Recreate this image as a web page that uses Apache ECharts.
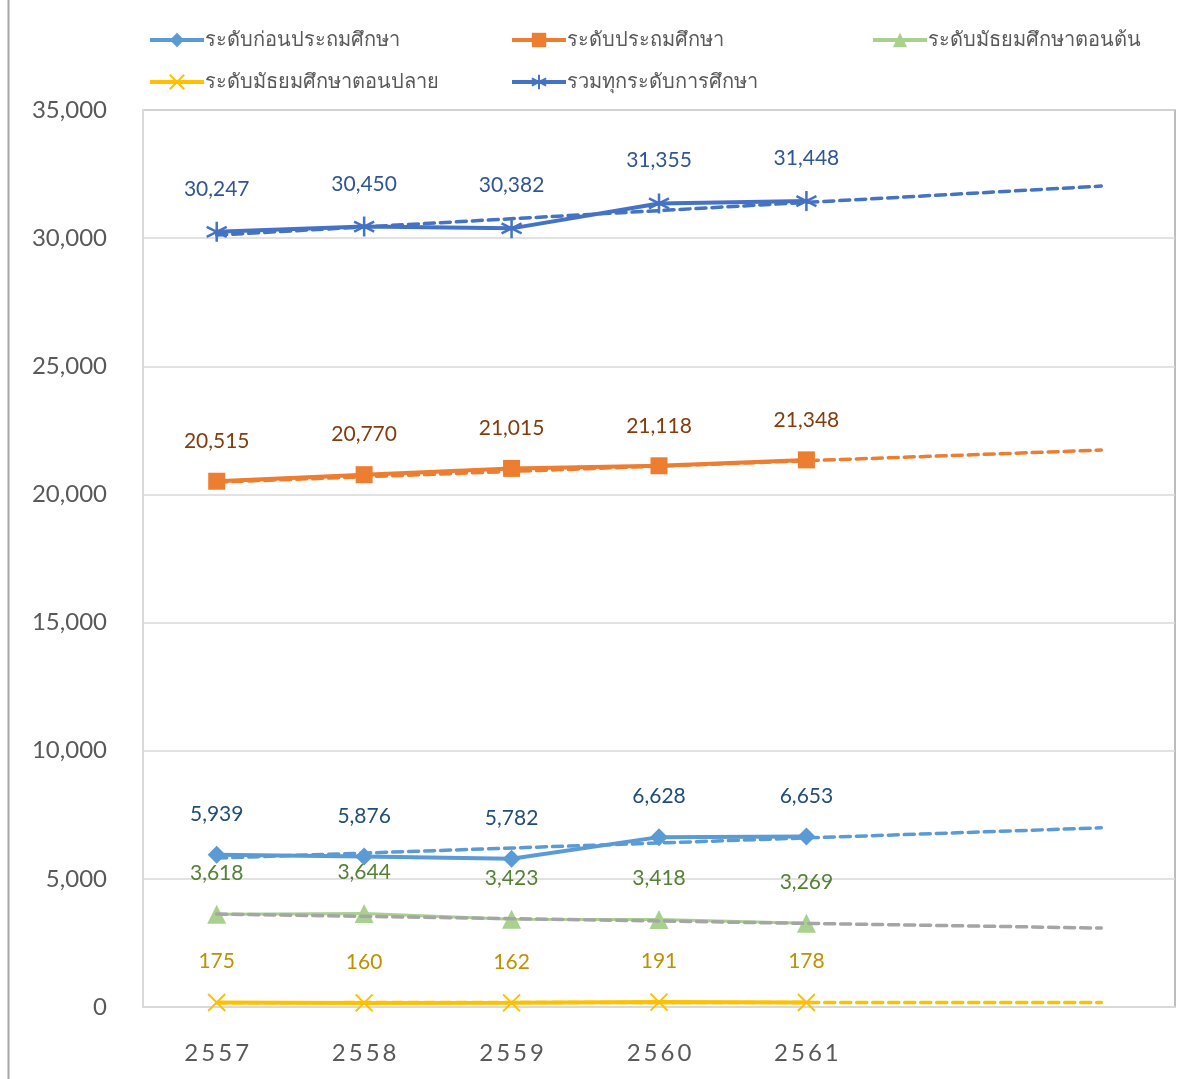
<!DOCTYPE html>
<html>
<head>
<meta charset="utf-8">
<script src="https://cdn.jsdelivr.net/npm/echarts@6/dist/echarts.min.js"></script>
<style>
  html, body { margin: 0; padding: 0; background: #fff; }
  #chart { width: 1202px; height: 1079px; }
</style>
</head>
<body>
<div id="chart"></div>
<script>
// ปีการศึกษา (two blank slots for the trend projection)
const years = ['2557', '2558', '2559', '2560', '2561', '', '']

const preschool = [5939, 5876, 5782, 6628, 6653]
const primary = [20515, 20770, 21015, 21118, 21348]
const lowerSec = [3618, 3644, 3423, 3418, 3269]
const upperSec = [175, 160, 162, 191, 178]
const total = [30247, 30450, 30382, 31355, 31448]

// trendline ends: [at 2557, at last slot]
const trendPreschool = [5810, 6990]
const trendPrimary = [20480, 21730]
const trendLowerSec = [3630, 3080]
const trendUpperSec = [170, 175]
const trendTotal = [30120, 32030]

const yTicks = [0, 5000, 10000, 15000, 20000, 25000, 30000, 35000]

const names = [
  'ระดับก่อนประถมศึกษา',
  'ระดับประถมศึกษา',
  'ระดับมัธยมศึกษาตอนต้น',
  'ระดับมัธยมศึกษาตอนปลาย',
  'รวมทุกระดับการศึกษา'
]

const FONT = 'Lato, "Liberation Sans", sans-serif'
const crossPath = 'path://M0,0L10,10M10,0L0,10'
const starPath = 'path://M5,0L5,10M0.7,2.5L9.3,7.5M0.7,7.5L9.3,2.5'

const fmt = v => v.value.toLocaleString('en-US')

function mainSeries(name, data, color, labelColor, symbol, size, width, extraItem) {
  return {
    name: name,
    type: 'line',
    data: data,
    symbol: symbol,
    symbolSize: size,
    z: 3,
    lineStyle: { color: color, width: width },
    itemStyle: Object.assign({ color: color }, extraItem || {}),
    label: {
      show: true,
      position: 'top',
      distance: 21,
      color: labelColor,
      fontSize: 21,
      fontFamily: FONT,
      formatter: fmt
    },
    animation: false
  }
}

function trendSeries(ends, color) {
  return {
    type: 'line',
    data: [[0, ends[0]], [years.length - 1, ends[1]]],
    symbol: 'none',
    z: 4,
    lineStyle: { color: color, width: 3.5, type: [10, 6], cap: 'round' },
    silent: true,
    animation: false
  }
}

const legendPos = [[143, 25], [505, 25], [866, 25], [143, 67], [505, 67]]
const legends = names.map((n, i) => ({
  data: [n],
  left: legendPos[i][0],
  top: legendPos[i][1],
  itemWidth: 54,
  itemHeight: 18,
  itemGap: 0,
  lineStyle: { width: 4 },
  textStyle: { color: '#595959', fontSize: 20, fontFamily: '"Noto Sans", sans-serif', padding: [0, 0, 0, -4] }
}))

const chart = echarts.init(document.getElementById('chart'))
chart.setOption({
  backgroundColor: '#fff',
  animation: false,
  legend: legends,
  grid: {
    left: 143, right: 27, top: 110, bottom: 72,
    show: true, borderColor: '#a6a6a6', borderWidth: 1.5
  },
  graphic: [{
    type: 'line',
    shape: { x1: 8.5, y1: 0, x2: 8.5, y2: 1079 },
    style: { stroke: '#a6a6a6', lineWidth: 2 }
  }],
  xAxis: {
    type: 'category',
    data: years,
    boundaryGap: true,
    axisLine: { show: true, lineStyle: { color: '#d9d9d9', width: 2 } },
    axisTick: { show: false },
    axisLabel: {
      color: '#595959',
      fontSize: 24,
      fontFamily: FONT,
      margin: 34,
      formatter: v => v.split('').join('\u2009')
    }
  },
  yAxis: {
    type: 'value',
    min: yTicks[0],
    max: yTicks[yTicks.length - 1],
    interval: yTicks[1] - yTicks[0],
    axisLine: { show: true, lineStyle: { color: '#d9d9d9', width: 2 } },
    axisTick: { show: false },
    splitLine: { lineStyle: { color: '#d9d9d9', width: 1.5 } },
    axisLabel: {
      color: '#595959',
      fontSize: 24,
      fontFamily: FONT,
      margin: 36,
      formatter: v => v.toLocaleString('en-US')
    }
  },
  series: [
    mainSeries(names[0], preschool, '#5b9bd5', '#1f4e79', 'diamond', 18, 4),
    mainSeries(names[1], primary, '#ed7d31', '#843c0c', 'rect', 17, 4),
    mainSeries(names[2], lowerSec, '#a9d18e', '#548235', 'triangle', 19, 3),
    mainSeries(names[3], upperSec, '#ffc000', '#bf9000', crossPath, 17, 4,
      { borderColor: '#ffc000', borderWidth: 2 }),
    mainSeries(names[4], total, '#4472c4', '#2f5597', starPath, 20, 4,
      { borderColor: '#4472c4', borderWidth: 2.5 }),
    trendSeries(trendPreschool, '#5b9bd5'),
    trendSeries(trendPrimary, '#ed7d31'),
    trendSeries(trendLowerSec, '#a5a5a5'),
    trendSeries(trendUpperSec, '#ffc000'),
    trendSeries(trendTotal, '#4472c4')
  ]
})
</script>
</body>
</html>
